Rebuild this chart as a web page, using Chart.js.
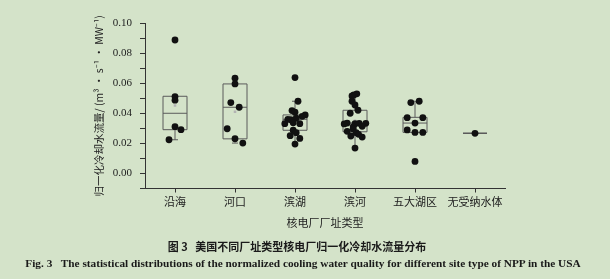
<!DOCTYPE html>
<html lang="zh">
<head>
    <meta charset="UTF-8">
    <title>美国不同厂址类型核电厂归一化冷却水流量分布</title>
    <script src="https://cdn.jsdelivr.net/npm/chart.js"></script>
    <style>
        body {
            margin: 0;
            background-color: #d4e3c9;
            width: 610px;
            height: 279px;
            overflow: hidden;
            position: relative;
        }
        #wrap {
            position: absolute;
            left: 0;
            top: 0;
            width: 610px;
            height: 279px;
        }
        .cap {
            position: absolute;
            white-space: nowrap;
            color: #1a1a1a;
            transform: translate(-50%, -50%);
        }
        #capCn {
            left: 297px;
            top: 246px;
            font: bold 11px "Noto Sans CJK SC", sans-serif;
        }
        #capEn {
            left: 303px;
            top: 263px;
            font: bold 11.3px "Liberation Serif", serif;
        }
    </style>
</head>
<body>
    <div id="wrap"><canvas id="chart" width="610" height="279"></canvas></div>
    <div class="cap" id="capCn">图 3&nbsp;&nbsp;&nbsp;美国不同厂址类型核电厂归一化冷却水流量分布</div>
    <div class="cap" id="capEn">Fig. 3&nbsp;&nbsp;&nbsp;The statistical distributions of the normalized cooling water quality for different site type of NPP in the USA</div>

    <script>
        // categories (site types)
        const categories = ["沿海", "河口", "滨湖", "滨河", "五大湖区", "无受纳水体"];

        // y ticks: labelled majors and unlabelled minors
        const yMajorTicks = [0.00, 0.02, 0.04, 0.06, 0.08, 0.10];
        const yMinorTicks = [-0.01, 0.01, 0.03, 0.05, 0.07, 0.09];

        // individual plants, values, with horizontal jitter (category units)
        const coastal = [0.0887, 0.0511, 0.0487, 0.0311, 0.0291, 0.0224];
        const coastalJitter = [0, 0, 0, 0, 0.1, -0.1];
        const estuary = [0.0633, 0.0595, 0.0471, 0.0440, 0.0297, 0.0231, 0.0202];
        const estuaryJitter = [0, 0, -0.07, 0.07, -0.13, 0, 0.13];
        const lakeside = [0.0637, 0.0480, 0.0418, 0.0407, 0.0389, 0.0380, 0.0367, 0.0360, 0.0357,
                          0.0331, 0.0337, 0.0331, 0.0287, 0.0271, 0.0251, 0.0233, 0.0195];
        const lakesideJitter = [0, 0.05, -0.05, 0, 0.17, 0.12, 0.02, -0.12, -0.07,
                                -0.17, -0.03, 0.08, -0.03, 0.02, -0.08, 0.08, 0];
        const riverside = [0.0529, 0.0522, 0.0515, 0.0480, 0.0455, 0.0420, 0.0400, 0.0333, 0.0333,
                           0.0331, 0.0335, 0.0329, 0.0313, 0.0309, 0.0295, 0.0280, 0.0271, 0.0260,
                           0.0249, 0.0242, 0.0169];
        const riversideJitter = [0.03, -0.02, -0.05, -0.05, 0, 0.05, -0.08, 0.18, 0.07,
                                 0, -0.13, -0.18, 0.12, -0.03, -0.03, -0.13, 0.02, 0.06,
                                 -0.07, 0.12, 0];
        const greatLakes = [0.0480, 0.0471, 0.0371, 0.0371, 0.0335, 0.0289, 0.0273, 0.0273, 0.0080];
        const greatLakesJitter = [0.07, -0.07, -0.13, 0.13, 0, -0.13, 0, 0.13, 0];
        const noWaterBody = [0.0267];
        const noWaterBodyJitter = [0];

        // box statistics
        const boxQ1 = [0.0291, 0.0230, 0.0287, 0.0277, 0.0273, 0.0267];
        const boxMedian = [0.0400, 0.0440, 0.0360, 0.0335, 0.0335, 0.0267];
        const boxQ3 = [0.0513, 0.0595, 0.0389, 0.0420, 0.0373, 0.0267];
        const whiskerLow = [0.0224, 0.0202, 0.0195, 0.0169, 0.0273, 0.0267];
        const whiskerHigh = [0.0511, 0.0633, 0.0480, 0.0529, 0.0480, 0.0267];

        const groups = [coastal, estuary, lakeside, riverside, greatLakes, noWaterBody];
        const jitters = [coastalJitter, estuaryJitter, lakesideJitter, riversideJitter, greatLakesJitter, noWaterBodyJitter];

        const textColor = "#222";
        const axisColor = "#333";
        const boxColor = "#5a5a5a";

        // scatter data for each group
        let pointDatasets = groups.map((vals, i) => ({
            label: categories[i],
            data: vals.map((v, j) => ({ x: i + jitters[i][j], y: v })),
            pointRadius: 3.4,
            pointBackgroundColor: "#111",
            pointBorderWidth: 0,
            order: 1
        }));

        // mean markers (small grey squares)
        let meanData = groups.map((vals, i) => ({
            x: i,
            y: vals.reduce((a, b) => a + b, 0) / vals.length
        }));

        // box + whisker drawing via scales
        const boxPlugin = {
            id: "boxes",
            beforeDatasetsDraw(chart) {
                const ctx = chart.ctx;
                const xs = chart.scales.x, ys = chart.scales.y;
                ctx.save();
                ctx.strokeStyle = boxColor;
                ctx.lineWidth = 1;
                categories.forEach((c, i) => {
                    const xl = xs.getPixelForValue(i - 0.2);
                    const xr = xs.getPixelForValue(i + 0.2);
                    const xc = xs.getPixelForValue(i);
                    const cap = xs.getPixelForValue(i + 0.05) - xc;
                    const yq1 = ys.getPixelForValue(boxQ1[i]);
                    const yq3 = ys.getPixelForValue(boxQ3[i]);
                    const ym = ys.getPixelForValue(boxMedian[i]);
                    const ylo = ys.getPixelForValue(whiskerLow[i]);
                    const yhi = ys.getPixelForValue(whiskerHigh[i]);
                    ctx.beginPath();
                    ctx.rect(xl, yq3, xr - xl, yq1 - yq3);
                    ctx.moveTo(xl, ym); ctx.lineTo(xr, ym);
                    if (yhi < yq3) {
                        ctx.moveTo(xc, yq3); ctx.lineTo(xc, yhi);
                        ctx.moveTo(xc - cap, yhi); ctx.lineTo(xc + cap, yhi);
                    }
                    if (ylo > yq1) {
                        ctx.moveTo(xc, yq1); ctx.lineTo(xc, ylo);
                        ctx.moveTo(xc - cap, ylo); ctx.lineTo(xc + cap, ylo);
                    }
                    ctx.stroke();
                });
                ctx.restore();
            }
        };

        new Chart(document.getElementById("chart"), {
            type: "scatter",
            data: {
                datasets: pointDatasets.concat([{
                    label: "mean",
                    data: meanData,
                    pointStyle: "rect",
                    pointRadius: 1.8,
                    pointBackgroundColor: "#b3b3b3",
                    pointBorderWidth: 0,
                    order: 2
                }])
            },
            options: {
                responsive: false,
                animation: false,
                layout: { padding: { left: 92, top: 23, right: 105, bottom: 45.5 } },
                plugins: { legend: { display: false }, tooltip: { enabled: false } },
                scales: {
                    x: {
                        type: "linear",
                        min: -0.5,
                        max: 5.5,
                        afterBuildTicks: (scale) => { scale.ticks = categories.map((c, i) => ({ value: i })); },
                        afterFit: (scale) => { scale.height = 45; },
                        ticks: {
                            callback: (v) => categories[v],
                            color: textColor,
                            font: { family: "'Noto Sans CJK SC', sans-serif", size: 11 },
                            padding: 3,
                            maxRotation: 0,
                            autoSkip: false
                        },
                        grid: { drawOnChartArea: false, drawTicks: true, tickLength: 4, color: axisColor },
                        border: { display: true, color: axisColor, width: 1 },
                        title: {
                            display: true,
                            text: "核电厂厂址类型",
                            color: textColor,
                            font: { family: "'Noto Sans CJK SC', sans-serif", size: 11 },
                            padding: { top: 0, bottom: 4 }
                        }
                    },
                    y: {
                        min: -0.01,
                        max: 0.10,
                        afterBuildTicks: (scale) => {
                            scale.ticks = yMajorTicks.concat(yMinorTicks)
                                .sort((a, b) => a - b)
                                .map(v => ({ value: v }));
                        },
                        afterFit: (scale) => { scale.width = 53; },
                        ticks: {
                            autoSkip: false,
                            callback: (v) => {
                                let k = Math.round(v * 100);
                                return yMajorTicks.some(t => Math.round(t * 100) === k) ? (k / 100).toFixed(2) : "";
                            },
                            color: textColor,
                            font: { family: "'Liberation Serif', serif", size: 11 },
                            padding: 8
                        },
                        grid: { drawOnChartArea: false, drawTicks: true, tickLength: 5, color: axisColor },
                        border: { display: true, color: axisColor, width: 1 },
                        title: {
                            display: true,
                            text: "归一化冷却水流量/ (m³ · s⁻¹ · MW⁻¹)",
                            color: textColor,
                            font: { family: "'Noto Sans CJK SC', sans-serif", size: 10.5 },
                            padding: { top: 1, bottom: 0 }
                        }
                    }
                }
            },
            plugins: [boxPlugin]
        });
    </script>
</body>
</html>
